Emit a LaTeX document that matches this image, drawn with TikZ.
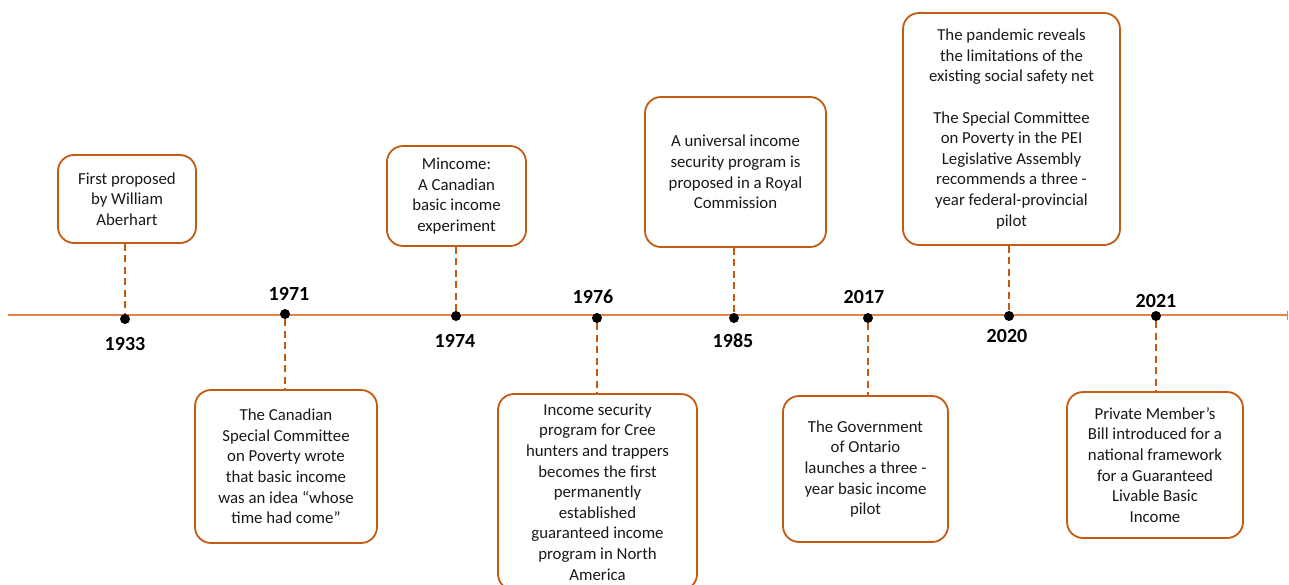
\documentclass[tikz,border=0pt]{standalone}
\usepackage{fontspec}
\setmainfont{Carlito}
\usetikzlibrary{arrows.meta}
\definecolor{boxor}{RGB}{197,90,17}
\definecolor{lineor}{RGB}{232,130,70}
\tikzset{
  evbox/.style={draw=boxor, line width=1.8pt, rounded corners=16pt, fill=white, align=center, inner sep=0pt,
     font=\fontsize{16.8}{20.6}\selectfont, text=black!90},
  dotn/.style={circle, fill=black, inner sep=0pt, minimum size=10pt},
  yearlab/.style={font=\fontsize{20}{24}\selectfont\bfseries, inner sep=0pt},
  conn/.style={draw=boxor, line width=2.2pt, dash pattern=on 7pt off 4.5pt},
  timeline/.style={draw=lineor, line width=1.3pt}
}
\begin{document}
\begin{tikzpicture}[x=1pt,y=-1pt]
\useasboundingbox (0,0) rectangle (1289,584);
% timeline
\coordinate (tl) at (8,315);
\coordinate (tr) at (1288,315);
\draw[timeline, -{Bar[width=9pt]}] (tl) -- (tr);

% boxes
\node[evbox, minimum width=138pt, minimum height=88pt] (b1) at (127,199) {First proposed\\by William\\Aberhart};
\node[evbox, minimum width=182pt, minimum height=153pt] (b2) at (286,466.5) {The Canadian\\Special Committee\\on Poverty wrote\\that basic income\\was an idea “whose\\time had come”};
\node[evbox, minimum width=139pt, minimum height=100pt] (b3) at (456.5,196) {Mincome:\\A Canadian\\basic income\\experiment};
\node[evbox, minimum width=199pt, minimum height=196pt] (b4) at (597.5,492) {Income security\\program for Cree\\hunters and trappers\\becomes the first\\permanently\\established\\guaranteed income\\program in North\\America};
\node[evbox, minimum width=181pt, minimum height=150pt] (b5) at (735.5,172) {A universal income\\security program is\\proposed in a Royal\\Commission};
\node[evbox, minimum width=165pt, minimum height=146pt] (b6) at (865.5,469) {The Government\\of Ontario\\launches a three -\\year basic income\\pilot};
\node[evbox, minimum width=217pt, minimum height=232pt] (b7) at (1011.5,129) {The pandemic reveals\\the limitations of the\\existing social safety net\\[20.6pt]The Special Committee\\on Poverty in the PEI\\Legislative Assembly\\recommends a three -\\year federal-provincial\\pilot};
\node[evbox, minimum width=176pt, minimum height=146pt] (b8) at (1155,465) {Private Member’s\\Bill introduced for a\\national framework\\for a Guaranteed\\Livable Basic\\Income};

% dots
\node[dotn] (d1) at (125,319) {};
\node[dotn] (d2) at (285,314) {};
\node[dotn] (d3) at (456,316) {};
\node[dotn] (d4) at (597,318) {};
\node[dotn] (d5) at (734,318) {};
\node[dotn] (d6) at (868,318) {};
\node[dotn] (d7) at (1009,316) {};
\node[dotn] (d8) at (1156,316) {};

% connectors
\draw[conn] (d1 |- b1.south) -- (d1.north);
\draw[conn] (d2.south) -- (d2 |- b2.north);
\draw[conn] (d3 |- b3.south) -- (d3.north);
\draw[conn] (d4.south) -- (d4 |- b4.north);
\draw[conn] (d5 |- b5.south) -- (d5.north);
\draw[conn] (d6.south) -- (d6 |- b6.north);
\draw[conn] (d7 |- b7.south) -- (d7.north);
\draw[conn] (d8.south) -- (d8 |- b8.north);

% year labels
\node[yearlab] (y1) at (125,344) {1933};
\node[yearlab] (y2) at (289,294) {1971};
\node[yearlab] (y3) at (455,341) {1974};
\node[yearlab] (y4) at (593,297) {1976};
\node[yearlab] (y5) at (733,341) {1985};
\node[yearlab] (y6) at (864,297) {2017};
\node[yearlab] (y7) at (1007,336) {2020};
\node[yearlab] (y8) at (1156,301) {2021};
\end{tikzpicture}
\end{document}
